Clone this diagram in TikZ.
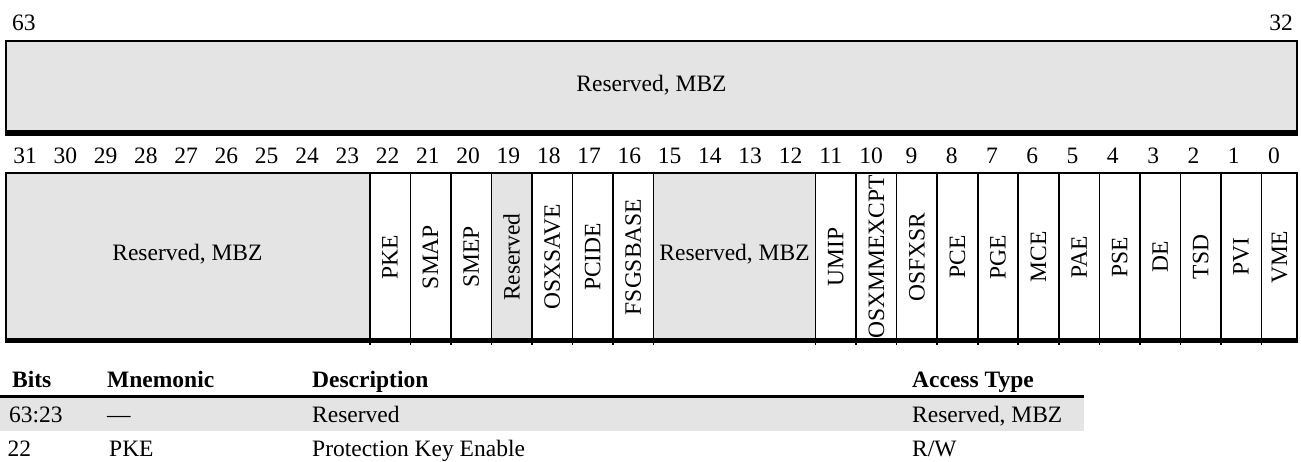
\documentclass[tikz,border=0pt]{standalone}
\usepackage{fontspec}
\setmainfont{Liberation Serif}
\definecolor{resgray}{RGB}{228,228,228}
\tikzset{
  txt/.style={inner sep=0pt, font=\fontsize{23.5}{28}\selectfont},
  lbl/.style={txt, anchor=base},
  lblw/.style={txt, anchor=base west},
  rot/.style={txt, rotate=90, anchor=center},
  hdr/.style={inner sep=0pt, anchor=base west, font=\fontsize{23.5}{28}\selectfont\bfseries},
  frame/.style={line width=1.6pt},
  heavy/.style={line width=5.5pt},
  rule/.style={line width=2.5pt},
}
\begin{document}
\begin{tikzpicture}[x=1pt,y=-1pt]
\useasboundingbox (0,0) rectangle (1301,462);
% upper half register
\node[lblw] (hi63) at (12,31) {63};
\node[txt, anchor=base east] (hi32) at (1293,31) {32};
\filldraw[fill=resgray, frame] (5.8,41) rectangle (1297.2,133);
\draw[heavy] (5,133) -- (1298,133);
\node[lbl] (topres) at (651.5,91.5) {Reserved, MBZ};
% bit numbers
\foreach \b in {0,...,31}{
  \node[lbl] (n\b) at ({25+(31-\b)*40.29},164) {\b};
}
% lower register fills
\fill[resgray] (5.8,172.8) rectangle ({5+9*40.53},340);
\fill[resgray] ({5+12*40.53},172.8) rectangle ({5+13*40.53},340);
\fill[resgray] ({5+16*40.53},172.8) rectangle ({5+20*40.53},340);
\foreach \i in {9,...,16,20,21,...,31}{
  \draw[frame] ({5+\i*40.53},172.8) -- ({5+\i*40.53},344.5);
}
\draw[frame] (5.8,172.8) rectangle (1297.2,340);
\draw[line width=5pt] (5,340.5) -- (1298,340.5);
% field labels
\node[lbl] (res3123) at ({5+4.5*40.53},260.5) {Reserved, MBZ};
\node[lbl] (res1512) at ({5+18*40.53},260.5) {Reserved, MBZ};
\foreach \b/\t in {22/PKE,21/SMAP,20/SMEP,19/Reserved,18/OSXSAVE,17/PCIDE,16/FSGSBASE,11/UMIP,10/OSXMMEXCPT,9/OSFXSR,8/PCE,7/PGE,6/MCE,5/PAE,4/PSE,3/DE,2/TSD,1/PVI}{
  \node[rot] (f\b) at ({5+(31.5-\b)*40.53},257) {\t};
}
\node[rot] (f0) at (1279.6,257) {VME};
% table
\fill[resgray] (0,398) rectangle (1084,431);
\draw[rule] (0,396.7) -- (1084,396.7);
\node[hdr] (hbits) at (12,387) {Bits};
\node[hdr] (hmnem) at (107,387) {Mnemonic};
\node[hdr] (hdesc) at (312,387) {Description};
\node[hdr] (hacc) at (912,387) {Access Type};
\node[lblw] (r1bits) at (9,422) {63:23};
\node[lblw] (r1mnem) at (107,422) {—};
\node[lblw] (r1desc) at (312,422) {Reserved};
\node[lblw] (r1acc) at (912,422) {Reserved, MBZ};
\node[lblw] (r2bits) at (7.5,456) {22};
\node[lblw] (r2mnem) at (109,456) {PKE};
\node[lblw] (r2desc) at (312,456) {Protection Key Enable};
\node[lblw] (r2acc) at (912,456) {R/W};
\end{tikzpicture}
\end{document}
